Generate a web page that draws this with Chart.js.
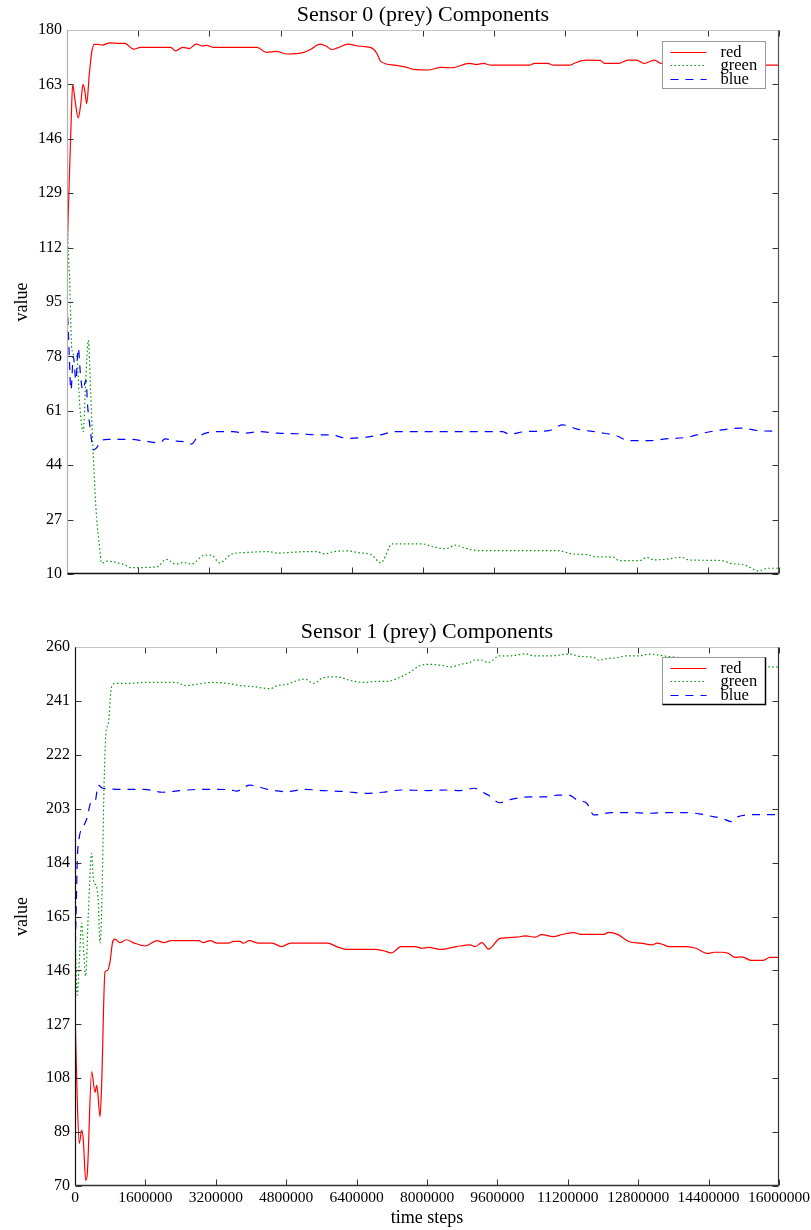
<!DOCTYPE html>
<html>
<head>
<meta charset="utf-8">
<title>Sensor Components</title>
<script src="https://cdn.jsdelivr.net/npm/chart.js@4.4.1/dist/chart.umd.min.js"></script>
<style>
  body { margin: 0; background: #fff; }
  #wrap { position: relative; width: 811px; height: 1230px; }
  canvas { position: absolute; left: 0; }
</style>
</head>
<body>
<div id="wrap">
  <canvas id="sensor0" width="811" height="605" style="top:0"></canvas>
  <canvas id="sensor1" width="811" height="625" style="top:605px"></canvas>
</div>
<script>
// ---- data (time step, value) ----
const seriesNames = ['red', 'green', 'blue'];
const xTicks = [0, 1600000, 3200000, 4800000, 6400000, 8000000, 9600000, 11200000, 12800000, 14400000, 16000000];

// Sensor 0
const red0T = [0, 40000, 90000, 128000, 180000, 254000, 310000, 360000, 400000, 443000, 500000, 555000, 614000, 700000, 800000, 966000, 1180000, 1300000, 1500000, 1650000, 2330000, 2440000, 2600000, 2750000, 2900000, 3050000, 3140000, 3280000, 4270000, 4480000, 4700000, 4950000, 5320000, 5480000, 5690000, 5820000, 5950000, 6100000, 6320000, 6530000, 6700000, 6890000, 6970000, 7050000, 7370000, 7600000, 7790000, 8100000, 8420000, 8650000, 9040000, 9200000, 9360000, 9520000, 10400000, 10500000, 10800000, 10930000, 11300000, 11400000, 11670000, 11980000, 12080000, 12400000, 12600000, 12800000, 12970000, 13200000, 13350000, 14000000, 14600000, 15000000, 15500000, 16000000];
const red0V = [109, 128, 150, 163, 158, 152.5, 157, 163, 161, 157, 166, 173, 175.5, 175.5, 175.3, 176, 175.8, 175.8, 174, 174.6, 174.6, 173.5, 174.6, 174.2, 175.6, 175, 175.2, 174.6, 174.6, 173, 173.3, 172.5, 173, 174, 175.6, 175, 173.9, 174.5, 175.6, 175, 174.8, 174, 172.5, 170.2, 169, 168.5, 167.7, 167.5, 168.3, 168.2, 169.6, 169.2, 169.6, 169, 169, 169.6, 169.6, 169, 169, 169.6, 170.6, 170.5, 169.6, 169.6, 170.6, 170.6, 169.6, 170.6, 169.6, 169.6, 169.5, 169, 169, 169];

const green0T = [0, 30000, 60000, 105000, 160000, 218000, 290000, 366000, 420000, 480000, 530000, 591000, 666000, 720000, 780000, 900000, 1270000, 1450000, 2020000, 2230000, 2440000, 2620000, 2800000, 3070000, 3250000, 3430000, 3700000, 4010000, 4530000, 4740000, 5000000, 5370000, 5600000, 5790000, 6000000, 6320000, 6530000, 6840000, 7050000, 7310000, 7990000, 8200000, 8520000, 8730000, 8940000, 9250000, 11040000, 11350000, 11720000, 11870000, 12290000, 12400000, 12870000, 13030000, 13190000, 13450000, 13820000, 13970000, 14700000, 14920000, 15230000, 15540000, 15750000, 16000000];
const green0V = [125, 110, 102, 81, 78.5, 78, 62, 54.5, 70, 83, 67.5, 46.7, 27.4, 20, 13.4, 14, 13, 12, 12.2, 14.6, 13.1, 13.6, 13.1, 15.8, 15.9, 13.5, 16.2, 16.7, 17, 16.5, 16.7, 17, 17, 16.3, 17, 17.2, 16.7, 16, 13.5, 19.4, 19.4, 18.6, 17.9, 19, 18.1, 17.3, 17.3, 16.3, 16, 15.4, 15.2, 14.2, 14.2, 15.2, 14.4, 14.6, 15.2, 14.4, 14.2, 13.3, 12.8, 11, 11.8, 11.8];

const blue0T = [0, 30000, 90000, 142000, 200000, 254000, 300000, 352000, 427000, 465000, 517000, 591000, 666000, 742000, 920000, 1390000, 1760000, 2090000, 2200000, 2470000, 2650000, 2800000, 2910000, 3120000, 3490000, 3730000, 4010000, 4320000, 4740000, 5270000, 5580000, 5900000, 6320000, 6740000, 7050000, 7370000, 9780000, 9940000, 10300000, 10830000, 11140000, 11460000, 11980000, 12350000, 12610000, 13130000, 13450000, 13970000, 14290000, 14600000, 15130000, 15540000, 16000000];
const blue0V = [95, 86, 67.5, 78, 70.6, 80.6, 72.8, 67.5, 70.6, 62.3, 56, 48.8, 49.4, 51.3, 52.1, 52.1, 51.5, 51, 52.2, 51.5, 51.3, 50.6, 52.4, 54, 54.5, 54.5, 54, 54.5, 54, 53.8, 53.5, 53.5, 52.4, 52.8, 53.5, 54.5, 54.5, 53.7, 54.5, 54.8, 56.6, 55.3, 54.2, 53.2, 51.7, 51.7, 52.2, 52.8, 54, 54.8, 55.6, 54.8, 54.6];

// Sensor 1
const red1T = [0, 52000, 98000, 152000, 190000, 243000, 280000, 379000, 455000, 492000, 520000, 568000, 606000, 682000, 742000, 795000, 856000, 909000, 1020000, 1170000, 1320000, 1600000, 1860000, 2020000, 2180000, 2810000, 2910000, 3070000, 3230000, 3490000, 3600000, 3750000, 3820000, 3960000, 4170000, 4480000, 4690000, 4900000, 5740000, 5950000, 6160000, 6790000, 7000000, 7200000, 7410000, 7730000, 7880000, 8040000, 8300000, 8670000, 8980000, 9090000, 9250000, 9400000, 9660000, 10030000, 10240000, 10450000, 10610000, 10870000, 11080000, 11340000, 11500000, 12020000, 12130000, 12330000, 12600000, 12860000, 13120000, 13230000, 13380000, 13490000, 13900000, 14110000, 14380000, 14530000, 14690000, 14850000, 15000000, 15160000, 15370000, 15630000, 15790000, 16000000];
const red1V = [132, 100, 85, 89.7, 86, 72, 74.5, 110.3, 103, 105.5, 102.6, 94.4, 106, 145.5, 146, 149, 156, 157, 155.8, 156.8, 155.8, 154.6, 156.5, 155.8, 156.5, 156.5, 155.8, 156.5, 155.6, 155.6, 156.2, 156.2, 155.6, 156.5, 155.6, 155.6, 154.4, 155.6, 155.6, 154.4, 153.4, 153.4, 153, 152.2, 154.4, 154.4, 153.8, 154.1, 153.4, 154.4, 155, 154.4, 155.8, 153.5, 157.3, 157.7, 158.2, 157.7, 158.6, 157.9, 158.7, 159.3, 158.7, 158.7, 159.4, 158.7, 156.1, 155.6, 155, 155.6, 155, 154.4, 154.4, 153.8, 152, 152.4, 152.4, 152, 150.6, 150.8, 149.5, 149.5, 150.6, 150.6];

const green1T = [0, 52000, 100000, 152000, 200000, 243000, 300000, 379000, 420000, 455000, 492000, 530000, 568000, 606000, 660000, 705000, 757000, 820000, 856000, 940000, 1260000, 1570000, 2300000, 2510000, 2820000, 3130000, 3450000, 3760000, 4070000, 4430000, 4600000, 4800000, 5060000, 5220000, 5430000, 5640000, 5950000, 6260000, 6570000, 6890000, 7100000, 7410000, 7610000, 7820000, 8030000, 8340000, 8550000, 8760000, 8970000, 9080000, 9240000, 9390000, 9650000, 9910000, 10230000, 10430000, 10850000, 11220000, 11480000, 11790000, 11900000, 12100000, 12360000, 12520000, 12830000, 13040000, 13250000, 13460000, 14000000, 14600000, 15200000, 15860000, 16000000];
const green1V = [160, 137.3, 150, 162.7, 152, 144, 165, 187.3, 178, 176.5, 175.5, 170, 155.6, 167, 210.7, 230, 233, 245, 246.6, 247.2, 247.2, 247.5, 247.5, 246.4, 247, 247.5, 247.2, 246.4, 246, 245.3, 246.4, 246.8, 248.2, 248.7, 247.2, 249.2, 249.5, 248.2, 247.5, 247.9, 247.9, 249.5, 251.1, 253.3, 253.9, 253.5, 253, 253.9, 254.5, 255.4, 255.4, 254.5, 256.9, 256.9, 257.6, 256.9, 256.9, 257.5, 256.7, 256.3, 255.4, 255.9, 256.3, 256.9, 256.9, 257.5, 257.2, 256.7, 256, 255, 254, 253, 253];

const blue1T = [0, 23000, 52000, 98000, 190000, 280000, 356000, 455000, 530000, 630000, 1150000, 1570000, 1990000, 2400000, 2820000, 3240000, 3550000, 3670000, 3970000, 4390000, 4800000, 5220000, 5640000, 6160000, 6570000, 6990000, 7410000, 8030000, 8450000, 8760000, 9080000, 9290000, 9390000, 9650000, 9910000, 10330000, 10750000, 10960000, 11220000, 11420000, 11630000, 11790000, 12200000, 12620000, 13040000, 13460000, 13870000, 14190000, 14500000, 14710000, 14920000, 15070000, 15440000, 16000000];
const blue1V = [150, 164.5, 185, 193, 196.6, 200, 205, 205.5, 211.3, 210.2, 209.8, 209.8, 208.8, 209.4, 209.8, 209.8, 209.6, 209.2, 211.3, 209.8, 209, 209.8, 209.4, 209, 208.4, 208.8, 209.6, 209.4, 209.6, 209.4, 210.2, 208.6, 207.8, 205.1, 206.3, 207.2, 207.2, 207.8, 207.8, 206, 204.9, 200.8, 201.6, 201.6, 201.4, 201.6, 201.6, 201.2, 200.2, 199.6, 198.4, 200.2, 200.9, 200.9];

const yTicks0 = { min: 10, max: 180, step: 17 };
const yTicks1 = { min: 70, max: 260, step: 19 };

Chart.defaults.font.family = '"Liberation Serif", "Times New Roman", serif';
Chart.defaults.color = '#000';

const toPoints = (ts, vs) => ts.map((t, i) => ({ x: t, y: vs[i] }));

// inward tick marks on all four sides, plus the box
const framePlugin = {
  id: 'frame',
  afterDatasetsDraw(chart, args, opts) {
    const { ctx, chartArea: a } = chart;
    const xs = chart.scales.x, ys = chart.scales.y;
    const L = Math.round(a.left) + 0.5, R = Math.round(a.right) - 0.5;
    const T = Math.round(a.top) + 0.5, B = Math.round(a.bottom) - 0.5;
    ctx.save();
    ctx.lineWidth = 1;
    ctx.strokeStyle = '#333';
    ctx.beginPath();
    xTicks.forEach(v => {
      const px = Math.round(xs.getPixelForValue(v)) + 0.5;
      ctx.moveTo(px, T); ctx.lineTo(px, T + 6);
      ctx.moveTo(px, B); ctx.lineTo(px, B - 6);
    });
    ys.ticks.forEach(t => {
      const py = Math.round(ys.getPixelForValue(t.value)) + 0.5;
      ctx.moveTo(L, py); ctx.lineTo(L + 6, py);
      ctx.moveTo(R, py); ctx.lineTo(R - 6, py);
    });
    ctx.stroke();
    const side = (x1, y1, x2, y2, c, w) => {
      ctx.strokeStyle = c; ctx.lineWidth = w;
      ctx.beginPath(); ctx.moveTo(x1, y1); ctx.lineTo(x2, y2); ctx.stroke();
    };
    side(L, T, R, T, opts.top, 1);
    side(L, T, L, B, opts.left, 1.2);
    side(R, T, R, B, opts.right, 1.2);
    side(L, B, R, B, opts.bottom, 1.5);
    ctx.restore();
  }
};

// boxed legend inside the plot, top right
const boxLegend = {
  id: 'boxLegend',
  afterDatasetsDraw(chart, args, opts) {
    const { ctx, chartArea: a } = chart;
    const w = 103, h = 47;
    const bx = Math.round(a.right - 14 - w) + 0.5, by = Math.round(a.top + opts.offsetY) + 0.5;
    ctx.save();
    ctx.fillStyle = '#fff';
    ctx.fillRect(bx, by, w, h);
    ctx.lineWidth = 1;
    ctx.strokeStyle = '#999';
    ctx.strokeRect(bx, by, w, h);
    if (opts.shadow) {
      ctx.strokeStyle = '#000';
      ctx.lineWidth = 1.5;
      ctx.beginPath();
      ctx.moveTo(bx + w, by); ctx.lineTo(bx + w, by + h); ctx.lineTo(bx, by + h);
      ctx.stroke();
    }
    ctx.font = '16.5px "Liberation Serif"';
    ctx.textBaseline = 'middle';
    chart.data.datasets.forEach((ds, i) => {
      const ly = Math.round(by + 10 + i * 13.7) + 0.5;
      ctx.strokeStyle = ds.borderColor;
      ctx.lineWidth = ds.borderWidth;
      ctx.setLineDash(ds.borderDash || []);
      ctx.beginPath(); ctx.moveTo(bx + 8, ly); ctx.lineTo(bx + 44, ly); ctx.stroke();
      ctx.setLineDash([]);
      ctx.fillStyle = '#000';
      ctx.fillText(ds.label, bx + 58, ly);
    });
    ctx.restore();
  }
};

const plotTitle = {
  id: 'plotTitle',
  afterDraw(chart, args, opts) {
    const { ctx, chartArea: a } = chart;
    ctx.save();
    ctx.font = '22px "Liberation Serif"';
    ctx.fillStyle = '#000';
    ctx.textAlign = 'center';
    ctx.textBaseline = 'alphabetic';
    ctx.fillText(opts.text, (a.left + a.right) / 2, a.top - 9);
    ctx.restore();
  }
};

function makeChart(id, title, yt, red, green, blue, layout) {
  const ctx = document.getElementById(id).getContext('2d');
  return new Chart(ctx, {
    type: 'line',
    data: {
      datasets: [
        { label: seriesNames[0], data: red, borderColor: 'rgb(255,0,0)', borderWidth: 1.2 },
        { label: seriesNames[1], data: green, borderColor: 'rgb(0,150,0)', borderWidth: 1.2, borderDash: [1.5, 2.5] },
        { label: seriesNames[2], data: blue, borderColor: 'rgb(0,0,255)', borderWidth: 1.2, borderDash: [8, 7] },
      ],
    },
    options: {
      responsive: false,
      animation: false,
      devicePixelRatio: 1,
      layout: { padding: { top: layout.top, right: 32, left: 0, bottom: 0 } },
      elements: {
        point: { radius: 0 },
        line: { cubicInterpolationMode: 'monotone', fill: false },
      },
      scales: {
        x: {
          type: 'linear',
          min: 0,
          max: 16000000,
          afterBuildTicks: (s) => { s.ticks = xTicks.map(v => ({ value: v })); },
          afterFit: (s) => { s.height = layout.xHeight; s.paddingLeft = 0; s.paddingRight = 0; },
          grid: { display: false, drawTicks: false },
          border: { display: false },
          ticks: {
            display: layout.xLabels,
            autoSkip: false,
            maxRotation: 0,
            padding: 3,
            font: { size: 15.5 },
            callback: (v) => String(Math.round(v)),
          },
          title: {
            display: layout.xLabels,
            text: 'time steps',
            font: { size: 18 },
            padding: { top: 0, bottom: 1 },
          },
        },
        y: {
          min: yt.min,
          max: yt.max,
          afterFit: (s) => { s.width = layout.yWidth; },
          grid: { display: false, drawTicks: false },
          border: { display: false },
          ticks: { stepSize: yt.step, autoSkip: false, padding: 5, font: { size: 16 } },
          title: {
            display: true,
            text: 'value',
            font: { size: 18 },
            padding: { top: 11, bottom: 0 },
          },
        },
      },
      plugins: {
        legend: { display: false },
        tooltip: { enabled: false },
        plotTitle: { text: title },
        boxLegend: { offsetY: layout.legendY, shadow: layout.shadow },
        frame: layout.frame,
      },
    },
    plugins: [framePlugin, boxLegend, plotTitle],
  });
}

makeChart('sensor0', 'Sensor 0 (prey) Components', yTicks0,
  toPoints(red0T, red0V), toPoints(green0T, green0V), toPoints(blue0T, blue0V),
  { top: 30, xHeight: 31, yWidth: 67, xLabels: false, legendY: 11, shadow: false,
    frame: { top: '#c4c4c4', left: '#b0b0b0', right: '#555', bottom: '#111' } });

makeChart('sensor1', 'Sensor 1 (prey) Components', yTicks1,
  toPoints(red1T, red1V), toPoints(green1T, green1V), toPoints(blue1T, blue1V),
  { top: 42, xHeight: 44, yWidth: 75, xLabels: true, legendY: 10, shadow: true,
    frame: { top: '#c4c4c4', left: '#111', right: '#333', bottom: '#333' } });
</script>
</body>
</html>
